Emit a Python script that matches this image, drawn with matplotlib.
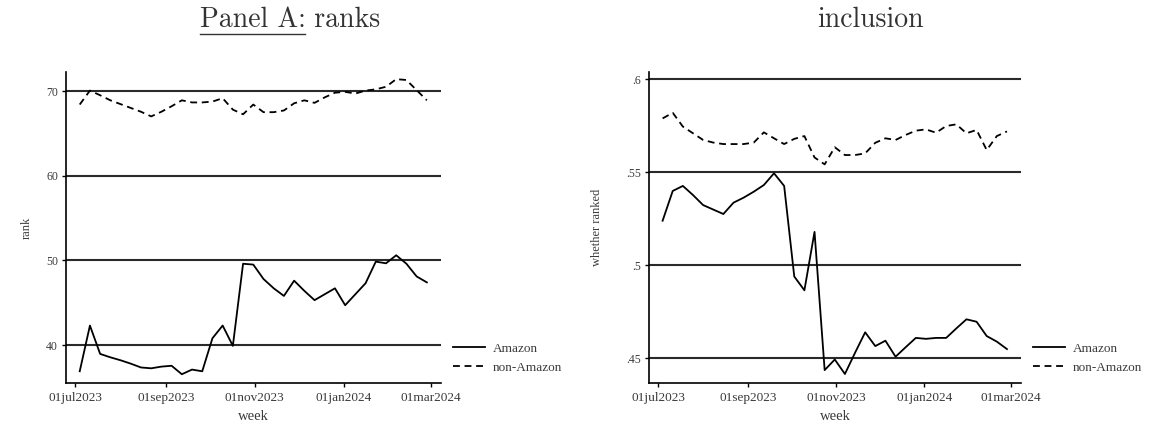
"""
    Weekly search ranks and inclusion, Amazon vs non-Amazon products.
    Two panels side by side, Stata-like styling.
"""

#----Import all modules

import matplotlib
matplotlib.use("Agg")
import matplotlib.pyplot as plt
import matplotlib.dates as mdates
import numpy as np
import pandas as pd
from matplotlib.lines import Line2D


#----Data

# weekly observations, 04jul2023 .. 27feb2024
weeks = pd.date_range("2023-07-04", periods=35, freq="7D")

rankAmazon = [36.9, 42.3, 38.95, 38.55, 38.2, 37.8, 37.35, 37.25, 37.45, 37.55,
              36.55, 37.1, 36.9, 40.8, 42.3, 39.9, 49.6, 49.5, 47.8, 46.7,
              45.8, 47.6, 46.4, 45.3, 46.0, 46.7, 44.7, 46.0, 47.3, 49.85,
              49.65, 50.6, 49.6, 48.1, 47.4]

rankOther = [68.4, 70.05, 69.5, 68.9, 68.45, 68.0, 67.55, 67.0, 67.55, 68.2,
             68.9, 68.65, 68.65, 68.75, 69.15, 67.8, 67.25, 68.4, 67.5, 67.5,
             67.7, 68.55, 68.9, 68.6, 69.25, 69.8, 69.9, 69.7, 70.05, 70.2,
             70.5, 71.4, 71.3, 70.1, 68.9]

inclAmazon = [0.524, 0.540, 0.5427, 0.5378, 0.5324, 0.530, 0.5276, 0.5337, 0.5364, 0.5396,
              0.5432, 0.5495, 0.5427, 0.494, 0.4866, 0.518, 0.4437, 0.4494, 0.4416, 0.453,
              0.464, 0.4566, 0.4595, 0.4509, 0.456, 0.461, 0.4605, 0.461, 0.461, 0.4661,
              0.471, 0.4697, 0.462, 0.459, 0.455]

inclOther = [0.579, 0.582, 0.5746, 0.571, 0.5674, 0.566, 0.5652, 0.5652, 0.5652, 0.566,
             0.5715, 0.5683, 0.5652, 0.568, 0.5695, 0.558, 0.5543, 0.5635, 0.5593, 0.5593,
             0.5602, 0.5659, 0.5683, 0.5674, 0.5701, 0.5724, 0.5731, 0.5713, 0.5749, 0.5758,
             0.571, 0.5728, 0.562, 0.5695, 0.572]

xTickDates = ["2023-07-01", "2023-09-01", "2023-11-01", "2024-01-01", "2024-03-01"]
xTickLabels = ["01jul2023", "01sep2023", "01nov2023", "01jan2024", "01mar2024"]

rankTicks = [40, 50, 60, 70]
rankTickLabels = ["40", "50", "60", "70"]

inclTicks = [0.45, 0.5, 0.55, 0.6]
inclTickLabels = [".45", ".5", ".55", ".6"]

seriesLabels = ["Amazon", "non-Amazon"]


#----Define All Functions

FIG_W, FIG_H = 1158, 425
SERIF = "Liberation Serif"
TITLE_FONT = "cmr10"
INK = "#3a3a3a"


def styleAxes(ax, yTicks, yTickLabels, yLim, yLabel, yLabelX):

    """ Stata-ish look: left/bottom spines, dark horizontal grid, outward ticks """

    base = pd.Timestamp("2023-07-01")
    left = mdates.date2num(base - pd.Timedelta(days=6.2))
    right = mdates.date2num(base + pd.Timedelta(days=250.5))
    ax.set_xlim(left, right)
    ax.set_ylim(*yLim)

    ax.set_xticks([mdates.date2num(pd.Timestamp(d)) for d in xTickDates])
    ax.set_xticklabels(xTickLabels)
    ax.set_yticks(yTicks)
    ax.set_yticklabels(yTickLabels)

    for side in ["top", "right"]:
        ax.spines[side].set_visible(False)
    for side in ["left", "bottom"]:
        ax.spines[side].set_linewidth(1.2)
        ax.spines[side].set_color("black")

    ax.tick_params(axis="both", direction="out", length=3, width=1.0,
                   labelcolor=INK, pad=3)
    ax.tick_params(axis="x", labelsize=9.5)
    ax.tick_params(axis="y", labelsize=8.5)
    for lab in ax.get_xticklabels() + ax.get_yticklabels():
        lab.set_family(SERIF)

    ax.yaxis.grid(True, color="#2a2a2a", linewidth=1.5)
    ax.set_axisbelow(True)

    ax.set_xlabel("week", family=SERIF, fontsize=10.5, color=INK)
    ax.xaxis.set_label_coords(0.5, -0.107)
    ax.xaxis.label.set_va("center")

    ax.set_ylabel(yLabel, family=SERIF, fontsize=9, color=INK)
    ax.yaxis.set_label_coords(yLabelX, 0.5)
    ax.yaxis.label.set_va("center")

# end styleAxes


def drawSeries(ax, yAmazon, yOther):

    """ Solid line for Amazon, dashed for everybody else, plus the side legend """

    ax.plot(weeks, yAmazon, color="black", linewidth=1.3, label=seriesLabels[0])
    ax.plot(weeks, yOther, color="black", linewidth=1.3, dashes=(3.8, 2.6),
            label=seriesLabels[1])

    leg = ax.legend(loc="center left", bbox_to_anchor=(1.02, 0.08), frameon=False,
                    handlelength=2.4, handletextpad=0.6, labelspacing=0.5,
                    borderaxespad=0, prop={"family": SERIF, "size": 9.5})
    for t in leg.get_texts():
        t.set_color(INK)

# end drawSeries


def drawTitle(fig, xCenter, yCenter, head, tail, size):

    """ Centred title, optional underlined head part """

    renderer = fig.canvas.get_renderer()
    t1 = fig.text(0, yCenter, head, family=TITLE_FONT, fontsize=size,
                  ha="left", va="center", color="#333333")
    t2 = fig.text(0, yCenter, tail, family=TITLE_FONT, fontsize=size,
                  ha="left", va="center", color="#333333")
    w1 = t1.get_window_extent(renderer).width if head else 0
    w2 = t2.get_window_extent(renderer).width if tail else 0
    leftPx = xCenter * FIG_W - (w1 + w2) / 2
    t1.set_x(leftPx / FIG_W)
    t2.set_x((leftPx + w1) / FIG_W)

    if head:
        yLine = 1 - 33.5 / FIG_H
        fig.add_artist(Line2D([leftPx / FIG_W, (leftPx + w1) / FIG_W], [yLine, yLine],
                              color="#333333", linewidth=1.0))

# end drawTitle


def main():

    fig = plt.figure(figsize=(FIG_W / 100, FIG_H / 100), dpi=100)
    fig.patch.set_facecolor("white")

    bottom = 1 - 383.3 / FIG_H
    height = (383.3 - 71.7) / FIG_H

    axL = fig.add_axes([66.3 / FIG_W, bottom, (440.7 - 66.3) / FIG_W, height])
    drawSeries(axL, rankAmazon, rankOther)
    styleAxes(axL, rankTicks, rankTickLabels, (35.48, 72.28), "rank", -0.105)

    axR = fig.add_axes([649.3 / FIG_W, bottom, (1020.7 - 649.3) / FIG_W, height])
    drawSeries(axR, inclAmazon, inclOther)
    styleAxes(axR, inclTicks, inclTickLabels, (0.4366, 0.6041), "whether ranked", -0.14)

    drawTitle(fig, 290 / FIG_W, 1 - 20 / FIG_H, "Panel A:", " ranks", 20)
    drawTitle(fig, 870 / FIG_W, 1 - 20 / FIG_H, "", "inclusion", 20)

    fig.savefig("out.png", dpi=100, facecolor="white")

# end of main function


#----Entry point

if __name__ == "__main__":
    main()
